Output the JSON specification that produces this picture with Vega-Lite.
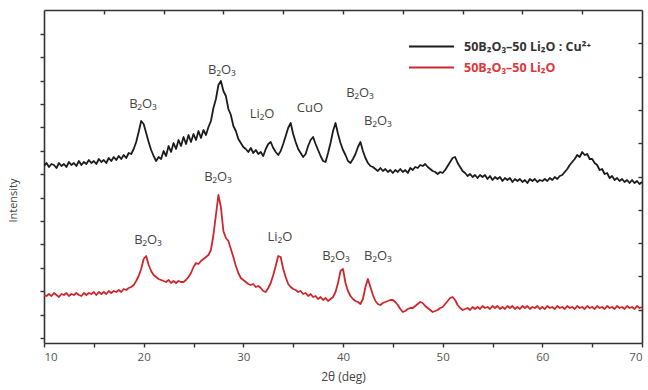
{
"$schema": "https://vega.github.io/schema/vega-lite/v6.json",
"width": 598, "height": 333,
"autosize": {"type": "none"},
"padding": {"left": 44, "top": 10, "right": 6, "bottom": 47},
"background": "white",
"config": {"view": {"stroke": null}, "axis": {"grid": false, "domainColor": "#333", "domainWidth": 1.6, "tickColor": "#333", "tickWidth": 1.4, "labelFont": "Open Sans", "titleFont": "Open Sans", "labelColor": "#555", "titleColor": "#444", "labelFontSize": 11, "titleFontSize": 11, "titleFontWeight": "normal"}},
"resolve": {"scale": {"x": "shared", "y": "shared"}, "axis": {"x": "independent", "y": "independent"}},
"layer": [
{
"data": {"values": [
{"t":10.00,"a":177,"b":48},{"t":10.25,"a":180,"b":47},{"t":10.50,"a":176,"b":49},{"t":10.75,"a":179,"b":47},
{"t":11.00,"a":178,"b":50},{"t":11.25,"a":175,"b":48},{"t":11.50,"a":180,"b":46},{"t":11.75,"a":177,"b":49},
{"t":12.00,"a":179,"b":48},{"t":12.25,"a":176,"b":50},{"t":12.50,"a":181,"b":47},{"t":12.75,"a":178,"b":49},
{"t":13.00,"a":180,"b":48},{"t":13.25,"a":177,"b":50},{"t":13.50,"a":182,"b":48},{"t":13.75,"a":178,"b":47},
{"t":14.00,"a":181,"b":50},{"t":14.25,"a":179,"b":48},{"t":14.50,"a":183,"b":50},{"t":14.75,"a":180,"b":49},
{"t":15.00,"a":182,"b":51},{"t":15.25,"a":179,"b":48},{"t":15.50,"a":184,"b":51},{"t":15.75,"a":181,"b":49},
{"t":16.00,"a":183,"b":51},{"t":16.25,"a":180,"b":49},{"t":16.50,"a":185,"b":52},{"t":16.75,"a":182,"b":50},
{"t":17.00,"a":186,"b":52},{"t":17.25,"a":183,"b":51},{"t":17.50,"a":187,"b":53},{"t":17.75,"a":184,"b":51},
{"t":18.00,"a":188,"b":54},{"t":18.25,"a":185,"b":53},{"t":18.50,"a":190,"b":55},{"t":18.75,"a":189,"b":56},
{"t":19.00,"a":194,"b":58},{"t":19.25,"a":201,"b":62},{"t":19.50,"a":211,"b":67},{"t":19.75,"a":222,"b":74},
{"t":20.00,"a":219,"b":84},{"t":20.25,"a":210,"b":87},{"t":20.50,"a":201,"b":78},{"t":20.75,"a":193,"b":72},
{"t":21.00,"a":187,"b":68},{"t":21.25,"a":182,"b":66},{"t":21.50,"a":186,"b":64},{"t":21.75,"a":184,"b":63},
{"t":22.00,"a":192,"b":62},{"t":22.25,"a":187,"b":61},{"t":22.50,"a":197,"b":63},{"t":22.75,"a":191,"b":60},
{"t":23.00,"a":200,"b":62},{"t":23.25,"a":194,"b":60},{"t":23.50,"a":203,"b":62},{"t":23.75,"a":197,"b":61},
{"t":24.00,"a":206,"b":61},{"t":24.25,"a":199,"b":63},{"t":24.50,"a":208,"b":66},{"t":24.75,"a":201,"b":70},
{"t":25.00,"a":209,"b":76},{"t":25.25,"a":203,"b":80},{"t":25.50,"a":212,"b":79},{"t":25.75,"a":205,"b":82},
{"t":26.00,"a":213,"b":84},{"t":26.25,"a":208,"b":86},{"t":26.50,"a":216,"b":88},{"t":26.75,"a":222,"b":93},
{"t":27.00,"a":235,"b":108},{"t":27.25,"a":244,"b":128},{"t":27.50,"a":258,"b":148},{"t":27.75,"a":262,"b":136},
{"t":28.00,"a":252,"b":112},{"t":28.25,"a":247,"b":105},{"t":28.50,"a":234,"b":102},{"t":28.75,"a":228,"b":94},
{"t":29.00,"a":217,"b":86},{"t":29.25,"a":212,"b":77},{"t":29.50,"a":204,"b":70},{"t":29.75,"a":200,"b":65},
{"t":30.00,"a":196,"b":63},{"t":30.25,"a":194,"b":61},{"t":30.50,"a":191,"b":59},{"t":30.75,"a":195,"b":58},
{"t":31.00,"a":190,"b":59},{"t":31.25,"a":193,"b":56},{"t":31.50,"a":189,"b":57},{"t":31.75,"a":191,"b":55},
{"t":32.00,"a":187,"b":52},{"t":32.25,"a":194,"b":51},{"t":32.50,"a":199,"b":55},{"t":32.75,"a":201,"b":60},
{"t":33.00,"a":195,"b":68},{"t":33.25,"a":191,"b":77},{"t":33.50,"a":188,"b":87},{"t":33.75,"a":192,"b":86},
{"t":34.00,"a":199,"b":74},{"t":34.25,"a":207,"b":66},{"t":34.50,"a":215,"b":59},{"t":34.75,"a":220,"b":56},
{"t":35.00,"a":209,"b":54},{"t":35.25,"a":201,"b":53},{"t":35.50,"a":194,"b":51},{"t":35.75,"a":190,"b":52},
{"t":36.00,"a":186,"b":49},{"t":36.25,"a":189,"b":50},{"t":36.50,"a":197,"b":47},{"t":36.75,"a":203,"b":49},
{"t":37.00,"a":206,"b":46},{"t":37.25,"a":199,"b":47},{"t":37.50,"a":193,"b":44},{"t":37.75,"a":187,"b":46},
{"t":38.00,"a":182,"b":43},{"t":38.25,"a":181,"b":45},{"t":38.50,"a":190,"b":42},{"t":38.75,"a":200,"b":44},
{"t":39.00,"a":212,"b":46},{"t":39.25,"a":220,"b":51},{"t":39.50,"a":209,"b":60},{"t":39.75,"a":200,"b":72},
{"t":40.00,"a":193,"b":74},{"t":40.25,"a":188,"b":60},{"t":40.50,"a":182,"b":52},{"t":40.75,"a":180,"b":47},
{"t":41.00,"a":184,"b":44},{"t":41.25,"a":189,"b":42},{"t":41.50,"a":196,"b":41},{"t":41.75,"a":201,"b":39},
{"t":42.00,"a":192,"b":44},{"t":42.25,"a":185,"b":56},{"t":42.50,"a":180,"b":64},{"t":42.75,"a":177,"b":56},
{"t":43.00,"a":176,"b":48},{"t":43.25,"a":174,"b":42},{"t":43.50,"a":172,"b":39},{"t":43.75,"a":175,"b":38},
{"t":44.00,"a":172,"b":40},{"t":44.25,"a":174,"b":41},{"t":44.50,"a":171,"b":42},{"t":44.75,"a":173,"b":43},
{"t":45.00,"a":170,"b":43},{"t":45.25,"a":173,"b":41},{"t":45.50,"a":171,"b":38},{"t":45.75,"a":174,"b":34},
{"t":46.00,"a":171,"b":31},{"t":46.25,"a":173,"b":32},{"t":46.50,"a":170,"b":34},{"t":46.75,"a":175,"b":35},
{"t":47.00,"a":173,"b":35},{"t":47.25,"a":176,"b":37},{"t":47.50,"a":175,"b":39},{"t":47.75,"a":178,"b":41},
{"t":48.00,"a":177,"b":40},{"t":48.25,"a":179,"b":37},{"t":48.50,"a":176,"b":35},{"t":48.75,"a":174,"b":33},
{"t":49.00,"a":172,"b":31},{"t":49.25,"a":171,"b":32},{"t":49.50,"a":169,"b":33},{"t":49.75,"a":171,"b":35},
{"t":50.00,"a":170,"b":36},{"t":50.25,"a":173,"b":39},{"t":50.50,"a":177,"b":42},{"t":50.75,"a":181,"b":45},
{"t":51.00,"a":185,"b":46},{"t":51.25,"a":186,"b":43},{"t":51.50,"a":180,"b":38},{"t":51.75,"a":176,"b":35},
{"t":52.00,"a":172,"b":33},{"t":52.25,"a":170,"b":34},{"t":52.50,"a":167,"b":35},{"t":52.75,"a":169,"b":33},
{"t":53.00,"a":166,"b":36},{"t":53.25,"a":168,"b":34},{"t":53.50,"a":165,"b":36},{"t":53.75,"a":168,"b":34},
{"t":54.00,"a":166,"b":37},{"t":54.25,"a":168,"b":35},{"t":54.50,"a":164,"b":36},{"t":54.75,"a":167,"b":34},
{"t":55.00,"a":163,"b":37},{"t":55.25,"a":166,"b":35},{"t":55.50,"a":164,"b":37},{"t":55.75,"a":166,"b":34},
{"t":56.00,"a":162,"b":36},{"t":56.25,"a":165,"b":34},{"t":56.50,"a":163,"b":37},{"t":56.75,"a":165,"b":35},
{"t":57.00,"a":161,"b":37},{"t":57.25,"a":164,"b":34},{"t":57.50,"a":162,"b":36},{"t":57.75,"a":164,"b":34},
{"t":58.00,"a":161,"b":37},{"t":58.25,"a":163,"b":35},{"t":58.50,"a":160,"b":37},{"t":58.75,"a":164,"b":34},
{"t":59.00,"a":162,"b":36},{"t":59.25,"a":164,"b":35},{"t":59.50,"a":161,"b":37},{"t":59.75,"a":163,"b":34},
{"t":60.00,"a":162,"b":36},{"t":60.25,"a":164,"b":34},{"t":60.50,"a":162,"b":37},{"t":60.75,"a":165,"b":35},
{"t":61.00,"a":163,"b":36},{"t":61.25,"a":166,"b":34},{"t":61.50,"a":164,"b":37},{"t":61.75,"a":167,"b":35},
{"t":62.00,"a":168,"b":36},{"t":62.25,"a":171,"b":34},{"t":62.50,"a":174,"b":37},{"t":62.75,"a":178,"b":35},
{"t":63.00,"a":181,"b":36},{"t":63.25,"a":184,"b":34},{"t":63.50,"a":188,"b":37},{"t":63.75,"a":186,"b":35},
{"t":64.00,"a":191,"b":36},{"t":64.25,"a":188,"b":34},{"t":64.50,"a":189,"b":37},{"t":64.75,"a":184,"b":35},
{"t":65.00,"a":184,"b":36},{"t":65.25,"a":180,"b":34},{"t":65.50,"a":178,"b":37},{"t":65.75,"a":173,"b":35},
{"t":66.00,"a":174,"b":36},{"t":66.25,"a":169,"b":34},{"t":66.50,"a":170,"b":37},{"t":66.75,"a":165,"b":35},
{"t":67.00,"a":167,"b":36},{"t":67.25,"a":163,"b":34},{"t":67.50,"a":165,"b":37},{"t":67.75,"a":162,"b":35},
{"t":68.00,"a":164,"b":36},{"t":68.25,"a":161,"b":34},{"t":68.50,"a":163,"b":37},{"t":68.75,"a":160,"b":35},
{"t":69.00,"a":163,"b":36},{"t":69.25,"a":160,"b":34},{"t":69.50,"a":162,"b":37},{"t":69.75,"a":159,"b":35},
{"t":70.00,"a":161,"b":36}
]},
"transform": [{"fold": ["a", "b"], "as": ["key", "v"]}],
"mark": {"type": "line", "strokeWidth": 1.8, "strokeJoin": "round", "clip": true},
"encoding": {
"x": {"field": "t", "type": "quantitative", "scale": {"domain": [10, 70], "nice": false, "zero": false},
"axis": {"orient": "bottom", "values": [10,15,20,25,30,35,40,45,50,55,60,65,70], "labelExpr": "datum.value % 10 === 0 ? datum.label : ''", "tickSize": 4, "labelPadding": 4, "labelFontSize": 11.5, "title": "2θ (deg)", "titleFontSize": 12, "titlePadding": 9}},
"y": {"field": "v", "type": "quantitative", "scale": {"domain": [0, 333], "nice": false, "zero": false},
"axis": {"orient": "left", "values": [5,28.4,51.8,75.2,98.6,122,145.4,168.8,192.2,215.6,239,262.4,285.8,309.2], "labels": false, "tickSize": 4, "title": "Intensity", "titlePadding": 21, "titleY": 190}},
"color": {"field": "key", "type": "nominal", "scale": {"domain": ["a", "b"], "range": ["#1c1c1c", "#cf262c"]},
"legend": {"title": null, "orient": "none", "legendX": 364, "legendY": 29, "symbolType": "stroke", "symbolSize": 2025, "symbolStrokeWidth": 2, "clipHeight": 15, "labelFont": "Open Sans", "labelFontSize": 12.5, "labelFontWeight": "bold", "rowPadding": 6, "labelOffset": 9,
"labelExpr": "datum.value == 'a' ? '50B₂O₃–50 Li₂O : Cu²⁺' : '50B₂O₃–50 Li₂O'",
"labelColor": {"expr": "datum.value == 'a' ? '#333' : '#e0353a'"}}}
}
},
{
"data": {"values": [
{"p":19.93,"q":239,"s":"B₂O₃"},{"p":27.85,"q":273,"s":"B₂O₃"},{"p":31.87,"q":229,"s":"Li₂O"},{"p":36.68,"q":235,"s":"CuO"},{"p":41.7,"q":250,"s":"B₂O₃"},{"p":43.5,"q":222,"s":"B₂O₃"},
{"p":27.45,"q":166,"s":"B₂O₃"},{"p":20.43,"q":103,"s":"B₂O₃"},{"p":33.67,"q":106,"s":"Li₂O"},{"p":39.29,"q":87,"s":"B₂O₃"},{"p":43.5,"q":87,"s":"B₂O₃"}
]},
"mark": {"type": "text", "font": "Open Sans", "fontSize": 13, "color": "#444", "align": "center", "baseline": "middle"},
"encoding": {
"x": {"field": "p", "type": "quantitative", "scale": {"domain": [10, 70], "nice": false, "zero": false},
"axis": {"orient": "top", "values": [16,22,28,34,40,46,52,58,64], "labels": false, "tickSize": -4, "title": null}},
"y": {"field": "q", "type": "quantitative", "scale": {"domain": [0, 333], "nice": false, "zero": false},
"axis": {"orient": "right", "values": [33.3,66.6,99.9,133.2,166.5,199.8,233.1,266.4,299.7], "labels": false, "tickSize": -4, "title": null}},
"text": {"field": "s"}
}
}
]
}
